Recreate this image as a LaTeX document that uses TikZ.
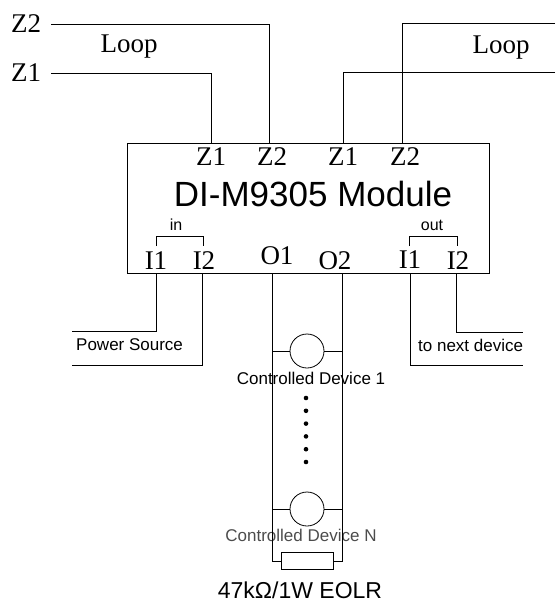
\documentclass[tikz,border=0pt]{standalone}
\usepackage{fontspec}
\setmainfont{Liberation Serif}
\setsansfont{Liberation Sans}
\usetikzlibrary{positioning,calc}

\tikzset{
  wire/.style={line width=0.8pt},
  term/.style={font=\fontsize{27}{27}\selectfont, inner sep=0pt},
  tag/.style={font=\sffamily\fontsize{17}{17}\selectfont, inner sep=0pt},
  part/.style={draw, line width=0.8pt, fill=white, inner sep=0pt}
}

\begin{document}
\begin{tikzpicture}[x=1pt, y=-1pt]
\useasboundingbox (0,0) rectangle (555,603);

% ----------------------
% Module box
% ----------------------
\node[
  part,
  minimum width=362,
  minimum height=130
] (module) at (308,208) {};

\node[
  font=\sffamily\fontsize{35}{35}\selectfont,
  inner sep=0pt
] (title) at (313,194) {DI-M9305 Module};

% terminals on top
\node[term] (tz1a) at (211,157) {Z1};
\node[term] (tz2a) at (272,157) {Z2};
\node[term] (tz1b) at (343,157) {Z1};
\node[term] (tz2b) at (405,157) {Z2};

% terminals below
\node[term] (ti1a) at (156,261) {I1};
\node[term] (ti2a) at (204,261) {I2};
\node[term] (to1) at (277,256) {O1};
\node[term] (to2) at (335,261) {O2};
\node[term] (ti1b) at (410,260) {I1};
\node[term] (ti2b) at (458,261) {I2};

\node[tag, font=\sffamily\fontsize{16}{16}\selectfont] (inlbl) at (176,225) {in};
\node[tag, font=\sffamily\fontsize{16}{16}\selectfont] (outlbl) at (432,225) {out};

\draw[wire] (156,246) |- (203,236) -- (203,246);
\draw[wire] (409,246) |- (457,236) -- (457,246);

% ----------------------
% Loop wiring
% ----------------------
\node[term] (z2in) at (26,24) {Z2};
\node[term] (z1in) at (26,73) {Z1};
\node[term] (loopL) at (129,47) {Loop};
\node[term] (loopR) at (501,48) {Loop};

\coordinate (z2out) at (555,23);
\coordinate (z1out) at (555,72);

\draw[wire] ([xshift=10]z2in.east) -| (269,143);
\draw[wire] ([xshift=10]z1in.east) -| (211,143);
\draw[wire] (z2out) -| (402,143);
\draw[wire] (z1out) -| (343,143);

% ----------------------
% Input / output wiring
% ----------------------
\node[tag, anchor=west] (power) at (76,345) {Power Source};
\node[tag, anchor=west] (nextdev) at (418,345) {to next device};

\draw[wire] (156,273) |- (72,331);
\draw[wire] (202,273) |- (72,365);
\draw[wire] (410,273) |- (523,365);
\draw[wire] (456,273) |- (523,332);

% ----------------------
% Controlled devices
% ----------------------
\coordinate (o1top) at (272,273);
\coordinate (o2top) at (342,273);

\node[part, circle, minimum size=34] (dev1) at (307,351) {};
\node[tag] (dev1lbl) at (311,378) {Controlled Device 1};

\foreach \k in {0,...,5}
  \fill (306,398+12.8*\k) circle (2.3);

\node[part, circle, minimum size=34] (devN) at (307,509) {};
\node[tag, text=black!70] (devNlbl) at (301,535) {Controlled Device N};

\node[part, minimum width=52, minimum height=17] (eolr) at (307,561) {};
\node[
  font=\sffamily\fontsize{23}{23}\selectfont,
  inner sep=0pt
] (eolrlbl) at (300,590) {47kΩ/1W EOLR};

\draw[wire] (o1top) |- (eolr.west);
\draw[wire] (o2top) |- (eolr.east);
\draw[wire] (dev1.west) -- (dev1.west -| o1top);
\draw[wire] (dev1.east) -- (dev1.east -| o2top);
\draw[wire] (devN.west) -- (devN.west -| o1top);
\draw[wire] (devN.east) -- (devN.east -| o2top);

\end{tikzpicture}
\end{document}
